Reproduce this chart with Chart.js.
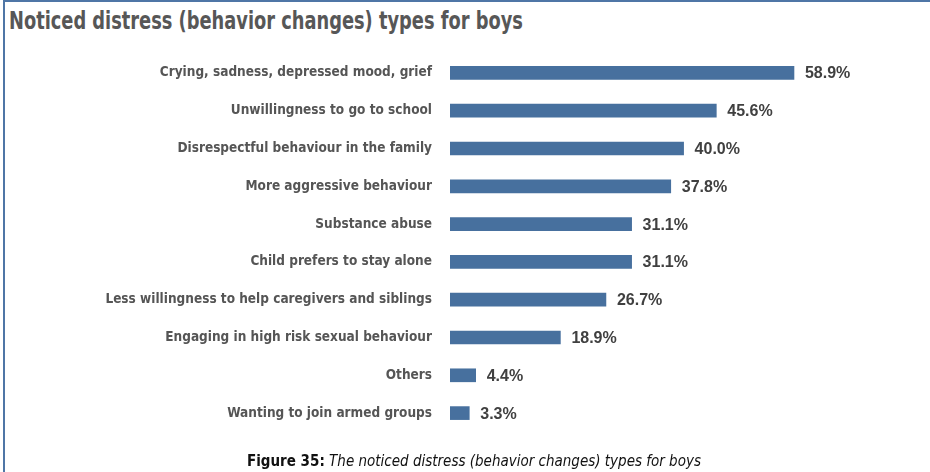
<!DOCTYPE html>
<html>
<head>
<meta charset="utf-8">
<script src="https://cdn.jsdelivr.net/npm/chart.js@4/dist/chart.umd.min.js"></script>
<style>
  html, body { margin: 0; padding: 0; background: #fff; }
  #wrap { position: relative; width: 930px; height: 472px; overflow: hidden; background: #fff; }
  #frameTop { position: absolute; left: 3px; top: 0; width: 927px; height: 2px; background: #4f76a6; }
  #frameLeft { position: absolute; left: 3px; top: 0; width: 2px; height: 472px; background: #4f76a6; }
  #title { position: absolute; left: 9px; top: 7px; font-family: "DejaVu Sans Condensed", sans-serif; font-weight: bold; font-size: 24px; color: #575757; white-space: nowrap; transform: scaleX(0.825); transform-origin: 0 0; }
  #caption { position: absolute; left: 247px; top: 452px; font-family: "DejaVu Sans Condensed", sans-serif; font-size: 15px; color: #111; white-space: nowrap; }
  #caption i { font-style: italic; }
  canvas { position: absolute; left: 0; top: 0; }
</style>
</head>
<body>
<div id="wrap">
  <div id="frameTop"></div>
  <div id="frameLeft"></div>
  <div id="title">Noticed distress (behavior changes) types for boys</div>
  <canvas id="c" width="930" height="472"></canvas>
  <div id="caption"><b>Figure 35:</b> <i>The noticed distress (behavior changes) types for boys</i></div>
</div>
<script>
const categories = [
  "Crying, sadness, depressed mood, grief",
  "Unwillingness to go to school",
  "Disrespectful behaviour in the family",
  "More aggressive behaviour",
  "Substance abuse",
  "Child prefers to stay alone",
  "Less willingness to help caregivers and siblings",
  "Engaging in high risk sexual behaviour",
  "Others",
  "Wanting to join armed groups"
];
const values = [58.9, 45.6, 40.0, 37.8, 31.1, 31.1, 26.7, 18.9, 4.4, 3.3];
const valueLabels = ["58.9%", "45.6%", "40.0%", "37.8%", "31.1%", "31.1%", "26.7%", "18.9%", "4.4%", "3.3%"];

const valueLabelPlugin = {
  id: 'valueLabels',
  afterDatasetsDraw(chart) {
    const ctx = chart.ctx;
    const meta = chart.getDatasetMeta(0);
    ctx.save();
    ctx.font = 'bold 16px "Liberation Sans", Arial, sans-serif';
    ctx.fillStyle = '#404040';
    ctx.textAlign = 'left';
    ctx.textBaseline = 'middle';
    meta.data.forEach((bar, i) => {
      ctx.fillText(valueLabels[i], bar.x + 11, bar.y + 1);
    });
    ctx.restore();
  }
};

new Chart(document.getElementById('c'), {
  type: 'bar',
  data: {
    labels: categories,
    datasets: [{
      data: values,
      backgroundColor: '#47709e',
      borderWidth: 0,
      barThickness: 13
    }]
  },
  options: {
    indexAxis: 'y',
    responsive: false,
    animation: false,
    layout: { padding: { top: 54, bottom: 40, left: 0, right: 0 } },
    plugins: { legend: { display: false }, tooltip: { enabled: false }, title: { display: false } },
    scales: {
      x: {
        display: false,
        min: 0,
        max: 480 / 5.84
      },
      y: {
        afterFit(scale) { scale.width = 450; },
        grid: { display: false },
        border: { display: false },
        ticks: {
          padding: 10,
          color: '#555555',
          font: { family: '"DejaVu Sans Condensed", sans-serif', weight: 'bold', size: 13.5 }
        }
      }
    }
  },
  plugins: [valueLabelPlugin]
});
</script>
</body>
</html>
